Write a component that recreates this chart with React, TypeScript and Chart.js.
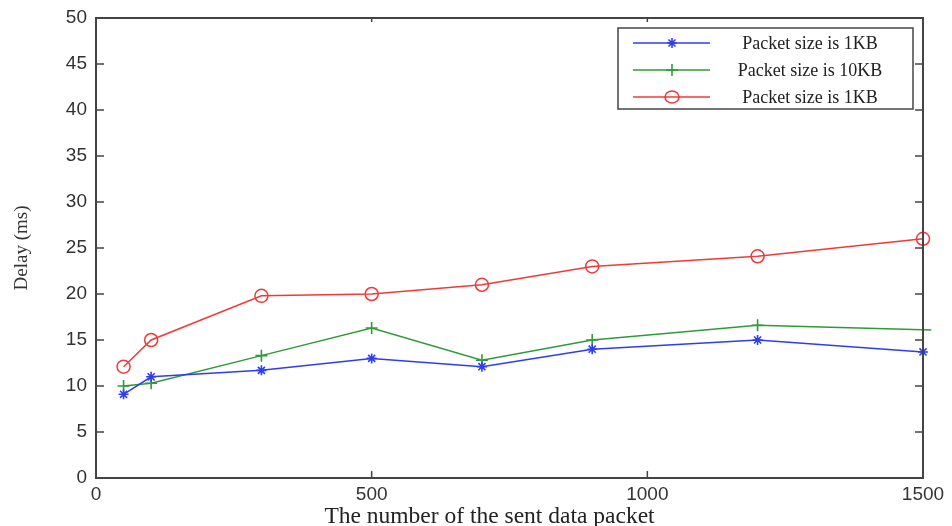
import React, { useEffect, useRef } from "react";
import { Chart, registerables } from "chart.js";

Chart.register(...registerables);

// ---- data ----
const blueX = [50, 100, 300, 500, 700, 900, 1200, 1500];
const blueDelay = [9.1, 11.0, 11.7, 13.0, 12.1, 14.0, 15.0, 13.7];
const greenX = [50, 100, 300, 500, 700, 900, 1200, 1515];
const greenDelay = [10.0, 10.3, 13.3, 16.3, 12.8, 15.0, 16.6, 16.1];
const redX = [50, 100, 300, 500, 700, 900, 1200, 1500];
const redDelay = [12.1, 15.0, 19.8, 20.0, 21.0, 23.0, 24.1, 26.0];
const seriesLabels = ["Packet size is 1KB", "Packet size is 10KB", "Packet size is 1KB"];
const xTicks = [0, 500, 1000, 1500];
const yTicks = [0, 5, 10, 15, 20, 25, 30, 35, 40, 45, 50];
const xTitle = "The number of the sent data packet";
const yTitle = "Delay (ms)";

const BLUE = "#2f3cf2";
const GREEN = "#2f9a3a";
const RED = "#f03a3a";
const AXIS = "#444444";

const zip = (xs: number[], ys: number[]) => xs.map((x, i) => ({ x, y: ys[i] }));

function drawMarker(ctx: CanvasRenderingContext2D, kind: string, x: number, y: number, color: string) {
  ctx.save();
  ctx.strokeStyle = color;
  ctx.lineWidth = 1.6;
  ctx.beginPath();
  if (kind === "star") {
    const r = 5;
    ctx.moveTo(x - r, y); ctx.lineTo(x + r, y);
    ctx.moveTo(x, y - r); ctx.lineTo(x, y + r);
    const d = r * 0.7;
    ctx.moveTo(x - d, y - d); ctx.lineTo(x + d, y + d);
    ctx.moveTo(x - d, y + d); ctx.lineTo(x + d, y - d);
  } else if (kind === "cross") {
    const r = 6;
    ctx.moveTo(x - r, y); ctx.lineTo(x + r, y);
    ctx.moveTo(x, y - r); ctx.lineTo(x, y + r);
  } else {
    ctx.ellipse(x, y, 7, 6, 0, 0, Math.PI * 2);
  }
  ctx.stroke();
  ctx.restore();
}

const framePlugin = {
  id: "frame",
  afterDatasetsDraw(chart: any) {
    const { ctx, chartArea, scales } = chart;
    const { left, right, top, bottom } = chartArea;
    ctx.save();
    ctx.strokeStyle = AXIS;
    ctx.lineWidth = 2;
    ctx.strokeRect(left, top, right - left, bottom - top);
    ctx.lineWidth = 1.5;
    ctx.beginPath();
    for (const v of xTicks) {
      const px = scales.x.getPixelForValue(v);
      ctx.moveTo(px, bottom); ctx.lineTo(px, bottom - 7);
      ctx.moveTo(px, top); ctx.lineTo(px, top + 4);
    }
    for (const v of yTicks) {
      const py = scales.y.getPixelForValue(v);
      ctx.moveTo(left, py); ctx.lineTo(left + 8, py);
      ctx.moveTo(right, py); ctx.lineTo(right - 8, py);
    }
    ctx.stroke();
    // x-axis title (slightly left of centre, as in the source figure)
    ctx.fillStyle = "#222222";
    ctx.font = "23.5px 'Liberation Serif', 'Times New Roman', serif";
    ctx.textAlign = "center";
    ctx.textBaseline = "alphabetic";
    ctx.fillText(xTitle, (left + right) / 2 - 20, chart.height - 3);
    ctx.restore();
  },
};

const legendPlugin = {
  id: "matlabLegend",
  afterDraw(chart: any) {
    const { ctx, chartArea } = chart;
    const bx = chartArea.right - 305;
    const by = chartArea.top + 10;
    const bw = 295;
    const bh = 81;
    ctx.save();
    ctx.fillStyle = "#ffffff";
    ctx.fillRect(bx, by, bw, bh);
    ctx.strokeStyle = AXIS;
    ctx.lineWidth = 1.5;
    ctx.strokeRect(bx, by, bw, bh);
    const kinds = ["star", "cross", "circle"];
    const colors = [BLUE, GREEN, RED];
    ctx.font = "18px 'Liberation Serif', 'Times New Roman', serif";
    ctx.textAlign = "center";
    ctx.textBaseline = "middle";
    for (let i = 0; i < 3; i++) {
      const ry = by + 15 + i * 27;
      ctx.strokeStyle = colors[i];
      ctx.lineWidth = 1.5;
      ctx.beginPath();
      ctx.moveTo(bx + 15, ry);
      ctx.lineTo(bx + 92, ry);
      ctx.stroke();
      drawMarker(ctx, kinds[i], bx + 54, ry, colors[i]);
      ctx.fillStyle = "#222222";
      ctx.fillText(seriesLabels[i], bx + 192, ry + 1);
    }
    ctx.restore();
  },
};

export default function App() {
  const canvasRef = useRef<HTMLCanvasElement | null>(null);

  useEffect(() => {
    document.body.style.margin = "0";
    const canvas = canvasRef.current;
    if (!canvas) return;
    const chart = new Chart(canvas, {
      type: "line",
      data: {
        datasets: [
          {
            label: seriesLabels[0],
            data: zip(blueX, blueDelay),
            borderColor: BLUE,
            backgroundColor: BLUE,
            borderWidth: 1.5,
            pointStyle: "star",
            pointRadius: 5,
            pointBorderWidth: 1.6,
            pointBorderColor: BLUE,
            tension: 0,
            clip: false,
          },
          {
            label: seriesLabels[1],
            data: zip(greenX, greenDelay),
            borderColor: GREEN,
            backgroundColor: GREEN,
            borderWidth: 1.5,
            pointStyle: "cross",
            pointRadius: [6, 6, 6, 6, 6, 6, 6, 0],
            pointBorderWidth: 1.6,
            pointBorderColor: GREEN,
            tension: 0,
            clip: false,
          },
          {
            label: seriesLabels[2],
            data: zip(redX, redDelay),
            borderColor: RED,
            backgroundColor: "rgba(0,0,0,0)",
            borderWidth: 1.5,
            pointStyle: "circle",
            pointRadius: 6.5,
            pointBorderWidth: 1.5,
            pointBorderColor: RED,
            tension: 0,
            clip: false,
          },
        ] as any,
      },
      options: {
        animation: false,
        responsive: false,
        events: [],
        layout: { padding: { top: 18, right: 29, left: 0, bottom: 0 } },
        plugins: {
          legend: { display: false },
          tooltip: { enabled: false },
        },
        scales: {
          x: {
            type: "linear",
            min: 0,
            max: 1500,
            grid: { display: false },
            border: { display: false },
            afterBuildTicks: (scale: any) => {
              scale.ticks = xTicks.map((v) => ({ value: v }));
            },
            afterFit: (scale: any) => {
              scale.height = 48;
            },
            ticks: {
              color: "#333333",
              padding: -3,
              maxRotation: 0,
              callback: (v: any) => String(v),
              font: { family: "'Liberation Sans', Arial, sans-serif", size: 19 },
            },
            title: { display: false },
          },
          y: {
            type: "linear",
            min: 0,
            max: 50,
            grid: { display: false },
            border: { display: false },
            afterBuildTicks: (scale: any) => {
              scale.ticks = yTicks.map((v) => ({ value: v }));
            },
            afterFit: (scale: any) => {
              scale.width = 96;
            },
            ticks: {
              color: "#333333",
              padding: 1,
              callback: (v: any) => String(v),
              font: { family: "'Liberation Sans', Arial, sans-serif", size: 19 },
            },
            title: {
              display: true,
              text: yTitle,
              color: "#333333",
              padding: { top: 11, bottom: 0 },
              font: { family: "'Liberation Serif', 'Times New Roman', serif", size: 19, lineHeight: 1.2 },
            },
          },
        },
      } as any,
      plugins: [framePlugin, legendPlugin],
    });
    return () => chart.destroy();
  }, []);

  return (
    <div style={{ width: 952, height: 526 }}>
      <canvas ref={canvasRef} width={952} height={526} />
    </div>
  );
}
